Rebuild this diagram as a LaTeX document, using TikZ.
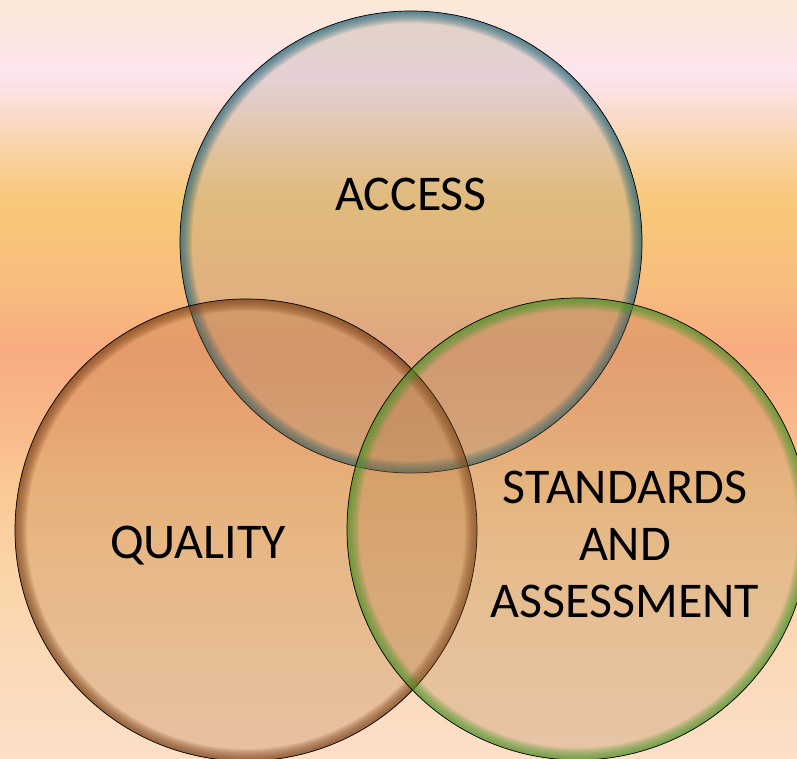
\documentclass[tikz,border=0pt]{standalone}
\usepackage{fontspec}
\setmainfont{Carlito}
\usetikzlibrary{positioning}

\definecolor{bgA}{HTML}{FBE8D6}
\definecolor{bgB}{HTML}{FCE6E2}
\definecolor{bgC}{HTML}{FDE5EE}
\definecolor{bgD}{HTML}{FADDD0}
\definecolor{bgE}{HTML}{F9D09A}
\definecolor{bgF}{HTML}{F8C87A}
\definecolor{bgG}{HTML}{F8BE7C}
\definecolor{bgH}{HTML}{F8AC80}
\definecolor{bgI}{HTML}{F9B88A}
\definecolor{bgJ}{HTML}{FAC893}
\definecolor{bgK}{HTML}{FBD3A5}
\definecolor{bgL}{HTML}{FBD8B4}
\definecolor{bgM}{HTML}{FCDFC8}
\definecolor{accfill}{RGB}{150,145,135}
\definecolor{accrim}{RGB}{30,100,120}
\definecolor{qualfill}{RGB}{170,100,40}
\definecolor{qualrim}{RGB}{120,65,25}
\definecolor{stdfill}{RGB}{165,115,60}
\definecolor{stdrim}{RGB}{70,150,40}

\pgfdeclareverticalshading{backdrop}{100bp}{color(0bp)=(bgM); color(25bp)=(bgM);
  color(32.84bp)=(bgL); color(38.11bp)=(bgK); color(43.38bp)=(bgJ);
  color(47.33bp)=(bgI); color(51.94bp)=(bgH); color(56.56bp)=(bgG);
  color(61.83bp)=(bgF); color(64.46bp)=(bgE); color(67.75bp)=(bgD);
  color(70.06bp)=(bgC); color(72.37bp)=(bgB); color(75bp)=(bgA); color(100bp)=(bgA)}

\begin{document}
\begin{tikzpicture}[x=1pt,y=1pt,
    venn/.style 2 args={circle, minimum size=462pt, inner sep=0pt, draw=black,
      line width=0.7pt, fill=#1, fill opacity=0.24,
      path picture={\foreach \w in {2,4,...,24}
        \draw[#2, line width=\w pt, draw opacity=0.09]
          (path picture bounding box.center) circle (231pt);}},
    caption/.style={font=\fontsize{50}{57}\selectfont, align=center, inner sep=0pt}]
        \useasboundingbox (0,0) rectangle (797,759);
        \clip (0,0) rectangle (797,759);
        \shade[shading=backdrop] (0,0) rectangle (797,759);
        % the three sets
        \node[venn={accfill}{accrim}] (access) at (411,517) {};
        \node[venn={qualfill}{qualrim}] (quality) at (246,229) {};
        \node[venn={stdfill}{stdrim}] (standards) at (578,230) {};
        % labels
        \node[caption, anchor=base] (accesslbl) at (411,548) {ACCESS};
        \node[caption, anchor=base] (qualitylbl) at (198,200) {QUALITY};
        \node[caption] (standardslbl) at (625,215) {STANDARDS\\AND\\ASSESSMENT};
\end{tikzpicture}
\end{document}
